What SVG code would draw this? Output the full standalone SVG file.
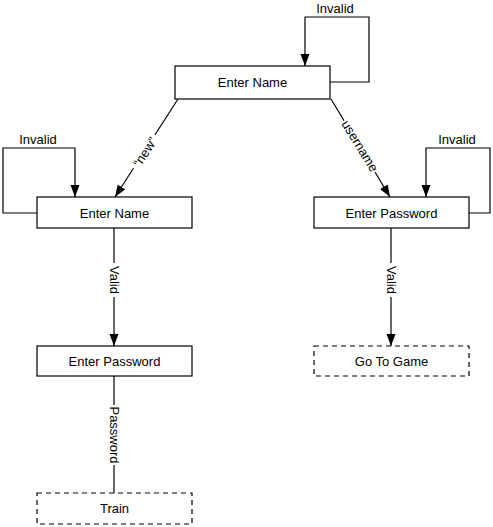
<svg xmlns="http://www.w3.org/2000/svg" width="493" height="527" viewBox="0 0 493 527">
<defs>
<style>
.box{fill:#fff;stroke:#000;stroke-width:1.2}
.dash{fill:#fff;stroke:#000;stroke-width:1.2;stroke-dasharray:5,4}
.t{font-family:"Liberation Sans",Arial,sans-serif;font-size:13px;fill:#000;text-anchor:middle;dominant-baseline:central}
.c{fill:none;stroke:#000;stroke-width:1.2}
.bg{fill:#fff}
</style>
<marker id="ah" markerUnits="userSpaceOnUse" markerWidth="12" markerHeight="10" refX="12" refY="4.5" orient="auto">
<path d="M0,0 L12,4.5 L0,9 z" fill="#000"/>
</marker>
</defs>
<rect width="493" height="527" fill="#fff"/>
<g id="connectors">
<polyline class="c" points="330,82 369,82 369,17 305,17 305,66" marker-end="url(#ah)"/>
<polyline class="c" points="37,213 3,213 3,148 75,148 75,197" marker-end="url(#ah)"/>
<polyline class="c" points="469,213 490,213 490,148 426,148 426,197" marker-end="url(#ah)"/>
<line class="c" x1="178" y1="99" x2="115" y2="197" marker-end="url(#ah)"/>
<line class="c" x1="331" y1="99" x2="390" y2="197" marker-end="url(#ah)"/>
<line class="c" x1="114" y1="228" x2="114" y2="346" marker-end="url(#ah)"/>
<line class="c" x1="391" y1="228" x2="391" y2="346" marker-end="url(#ah)"/>
<line class="c" x1="114" y1="376" x2="114" y2="493"/>
<text class="t" x="335" y="8">Invalid</text>
<text class="t" x="38" y="139">Invalid</text>
<text class="t" x="457" y="139">Invalid</text>
<g transform="translate(145,152) rotate(-57)">
<rect class="bg" x="-20" y="-7" width="40" height="14"/>
<text class="t" x="0" y="0">“new”</text>
</g>
<g transform="translate(360,146) rotate(58.5)">
<rect class="bg" x="-30" y="-7" width="60" height="14"/>
<text class="t" x="0" y="0">username</text>
</g>
<g transform="translate(114,280) rotate(90)">
<rect class="bg" x="-17" y="-7" width="34" height="14"/>
<text class="t" x="0" y="0">Valid</text>
</g>
<g transform="translate(391,280) rotate(90)">
<rect class="bg" x="-17" y="-7" width="34" height="14"/>
<text class="t" x="0" y="0">Valid</text>
</g>
<g transform="translate(114,435) rotate(90)">
<rect class="bg" x="-30" y="-7" width="60" height="14"/>
<text class="t" x="0" y="0">Password</text>
</g>
</g>
<g id="n1"><rect class="box" x="175" y="66" width="155" height="33"/><text class="t" x="252.5" y="82.5">Enter Name</text></g>
<g id="n2"><rect class="box" x="37" y="197" width="155" height="31"/><text class="t" x="114.5" y="213">Enter Name</text></g>
<g id="n3"><rect class="box" x="314" y="197" width="155" height="31"/><text class="t" x="391.5" y="213">Enter Password</text></g>
<g id="n4"><rect class="box" x="37" y="346" width="155" height="30"/><text class="t" x="114.5" y="361">Enter Password</text></g>
<g id="n5"><rect class="dash" x="314" y="346" width="155" height="30"/><text class="t" x="391.5" y="361">Go To Game</text></g>
<g id="n6"><rect class="dash" x="37" y="493" width="155" height="31"/><text class="t" x="114.5" y="508.5">Train</text></g>
</svg>
